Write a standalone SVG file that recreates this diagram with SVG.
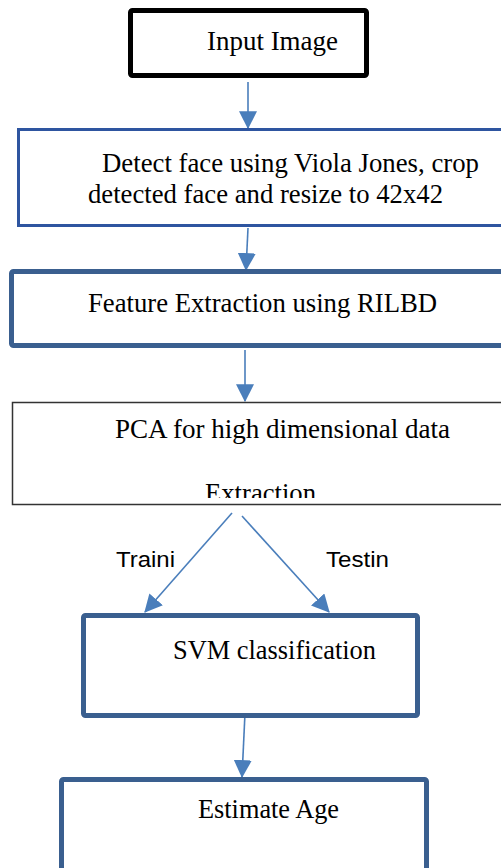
<svg xmlns="http://www.w3.org/2000/svg" width="501" height="868" viewBox="0 0 501 868">
<style>
.t{font-family:"Liberation Serif","Times New Roman",serif;font-size:27px;fill:#000}
.s{font-family:"Liberation Sans",Arial,sans-serif;font-size:22px;fill:#000}
.c{stroke:#4A7EBB;stroke-width:1.6;fill:none}
.b{fill:#fff;stroke:#3A5F8F;stroke-width:5}
</style>
<defs>
<marker id="ah" markerUnits="userSpaceOnUse" markerWidth="18" markerHeight="18" viewBox="0 0 16 16" refX="15" refY="8" orient="auto">
<path d="M0,0 L16,8 L0,16 Z" fill="#4A7EBB"/>
</marker>
<clipPath id="cp"><rect x="0" y="400" width="501" height="98"/></clipPath>
</defs>
<rect width="501" height="868" fill="#fff"/>
<g id="connectors">
<line class="c" x1="248" y1="82" x2="248" y2="128" marker-end="url(#ah)"/>
<line class="c" x1="248" y1="228" x2="246" y2="270" marker-end="url(#ah)"/>
<line class="c" x1="245" y1="350" x2="245" y2="401" marker-end="url(#ah)"/>
<line class="c" x1="232" y1="513" x2="145" y2="612" marker-end="url(#ah)"/>
<line class="c" x1="242" y1="516" x2="329" y2="612" marker-end="url(#ah)"/>
<line class="c" x1="245" y1="713" x2="242" y2="777" marker-end="url(#ah)"/>
</g>
<g id="input">
<rect x="130.5" y="10.5" width="236" height="65" rx="2" fill="#fff" stroke="#000" stroke-width="5"/>
<text class="t" x="207" y="50" textLength="131" lengthAdjust="spacingAndGlyphs">Input Image</text>
</g>
<g id="detect">
<rect x="18.5" y="129.5" width="500" height="96" fill="#fff" stroke="#2E55A0" stroke-width="3"/>
<text class="t" x="102" y="172" textLength="377" lengthAdjust="spacingAndGlyphs">Detect face using Viola  Jones, crop</text>
<text class="t" x="88" y="203" textLength="355" lengthAdjust="spacingAndGlyphs">detected face and resize to 42x42</text>
</g>
<g id="feature">
<rect class="b" x="11.5" y="271.5" width="500" height="74" rx="2"/>
<text class="t" x="88" y="312" textLength="349" lengthAdjust="spacingAndGlyphs">Feature Extraction using RILBD</text>
</g>
<g id="pca">
<rect x="12.5" y="402.5" width="500" height="102" fill="#fff" stroke="#333" stroke-width="1.5"/>
<text class="t" x="115" y="438" textLength="335" lengthAdjust="spacingAndGlyphs">PCA for high dimensional data</text>
<text class="t" x="205" y="502" textLength="111" lengthAdjust="spacingAndGlyphs" clip-path="url(#cp)">Extraction</text>
</g>
<g id="labels">
<text class="s" x="116" y="567" textLength="59" lengthAdjust="spacingAndGlyphs">Traini</text>
<text class="s" x="326" y="567" textLength="63" lengthAdjust="spacingAndGlyphs">Testin</text>
</g>
<g id="svm">
<rect class="b" x="83.5" y="615.5" width="334" height="100" rx="2"/>
<text class="t" x="173" y="659" textLength="203" lengthAdjust="spacingAndGlyphs">SVM classification</text>
</g>
<g id="estimate">
<rect class="b" x="61.5" y="779.5" width="365" height="200" rx="2"/>
<text class="t" x="198" y="818" textLength="141" lengthAdjust="spacingAndGlyphs">Estimate Age</text>
</g>
</svg>
